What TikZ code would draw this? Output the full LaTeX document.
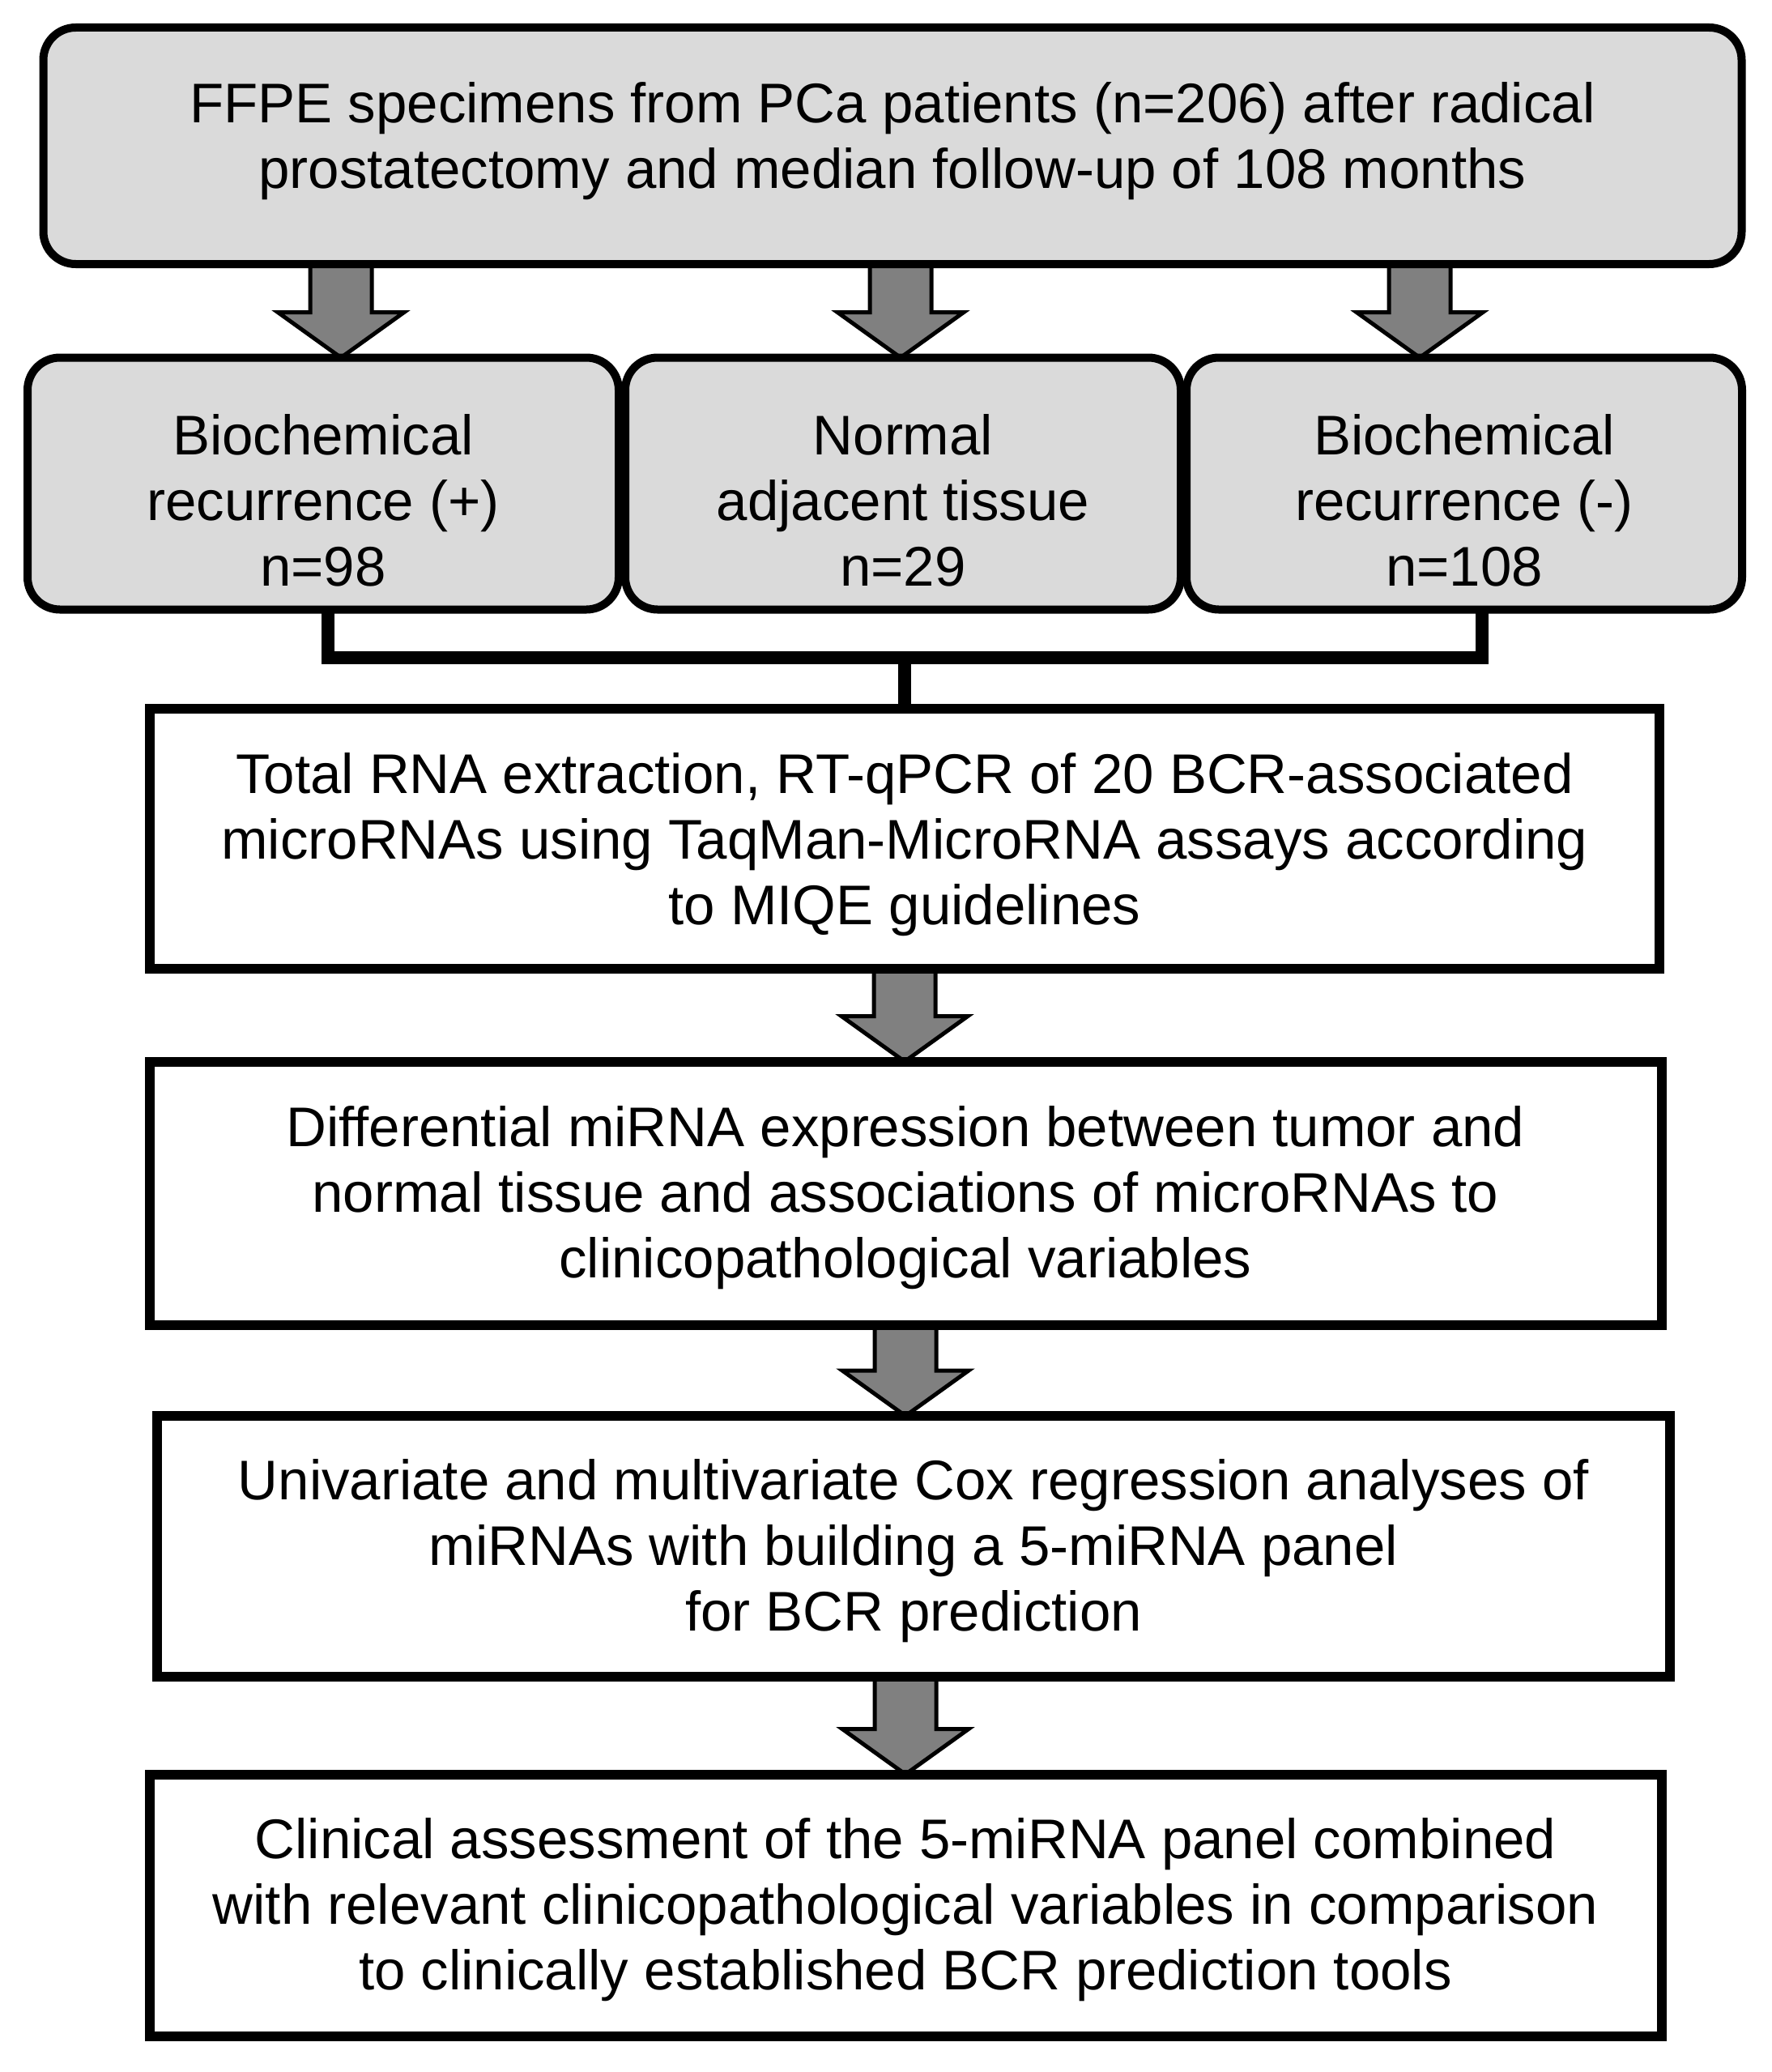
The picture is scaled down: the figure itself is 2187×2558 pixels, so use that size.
\documentclass[tikz,border=0pt]{standalone}
\usepackage{fontspec}
\setmainfont{Liberation Sans}
\usetikzlibrary{calc,backgrounds}
\definecolor{boxgray}{HTML}{DADADA}
\definecolor{arrowgray}{HTML}{808080}
\begin{document}
\begin{tikzpicture}[x=1pt,y=-1pt,
  txt/.style={align=center, font=\fontsize{69}{81}\selectfont},
  rbox/.style={draw=black, line width=10pt, fill=boxgray, rounded corners=40pt, inner sep=0pt, outer sep=0pt},
  sbox/.style={draw=black, line width=12pt, fill=white, inner sep=0pt, outer sep=0pt},
  bracket/.style={draw=black, line width=16pt},
  blockarrow/.style={draw=black, line width=5pt, fill=arrowgray, line join=miter,
    to path={let \p1=(\tikztostart), \p2=(\tikztotarget) in
      (\x1-38pt,\y1) -- (\x1+38pt,\y1) -- (\x1+38pt,\y2+56pt) -- (\x1+78pt,\y2+56pt)
      -- (\x1,\y2) -- (\x1-78pt,\y2+56pt) -- (\x1-38pt,\y2+56pt) -- cycle}}
]
\useasboundingbox (0,0) rectangle (2187,2558);

\node[rbox, minimum width=2097pt, minimum height=292pt,
  label={[txt,yshift=6pt]center:{FFPE specimens from PCa patients (n=206) after radical\\prostatectomy and median follow-up of 108 months}}] (top) at (1102,180) {};

\node[rbox, minimum width=730pt, minimum height=311pt,
  label={[txt,yshift=-21pt]center:{Biochemical\\recurrence (+)\\n=98}}] (bcrp) at (399,597) {};
\node[rbox, minimum width=686pt, minimum height=311pt,
  label={[txt,yshift=-21pt]center:{Normal\\adjacent tissue\\n=29}}] (nat) at (1115,597) {};
\node[rbox, minimum width=686pt, minimum height=311pt,
  label={[txt,yshift=-21pt]center:{Biochemical\\recurrence (-)\\n=108}}] (bcrm) at (1808,597) {};

\node[sbox, minimum width=1864pt, minimum height=321pt,
  label={[txt,yshift=-8pt]center:{Total RNA extraction, RT-qPCR of 20 BCR-associated\\microRNAs using TaqMan-MicroRNA assays according\\to MIQE guidelines}}] (rna) at (1117,1035) {};
\node[sbox, minimum width=1867pt, minimum height=325pt,
  label={[txt,yshift=-6pt]center:{Differential miRNA expression between tumor and\\normal tissue and associations of microRNAs to\\clinicopathological variables}}] (diff) at (1118,1473) {};
\node[sbox, minimum width=1868pt, minimum height=322pt,
  label={[txt,yshift=-6pt]center:{Univariate and multivariate Cox regression analyses of\\miRNAs with building a 5-miRNA panel\\for BCR prediction}}] (cox) at (1128,1909) {};
\node[sbox, minimum width=1867pt, minimum height=323pt,
  label={[txt,yshift=-6pt]center:{Clinical assessment of the 5-miRNA panel combined\\with relevant clinicopathological variables in comparison\\to clinically established BCR prediction tools}}] (clin) at (1118,2352) {};

\begin{scope}[on background layer]
  \fill[white] (0,0) rectangle (2187,2558);
  \path[blockarrow] ([xshift=22pt]bcrp.north |- top.south) to ([xshift=22pt]bcrp.north);
  \path[blockarrow] ([xshift=-3pt]nat.north |- top.south) to ([xshift=-3pt]nat.north);
  \path[blockarrow] ([xshift=-55pt]bcrm.north |- top.south) to ([xshift=-55pt]bcrm.north);
  \coordinate (j) at (1117,812);
  \draw[bracket] ([xshift=6pt]bcrp.south) |- (j);
  \draw[bracket] ([xshift=22pt]bcrm.south) |- (j);
  \draw[bracket] (j) -- (rna.north);
  \path[blockarrow] (rna.south) to (diff.north);
  \path[blockarrow] (diff.south) to (cox.north);
  \path[blockarrow] (clin.north |- cox.south) to (clin.north);
\end{scope}
\end{tikzpicture}
\end{document}
